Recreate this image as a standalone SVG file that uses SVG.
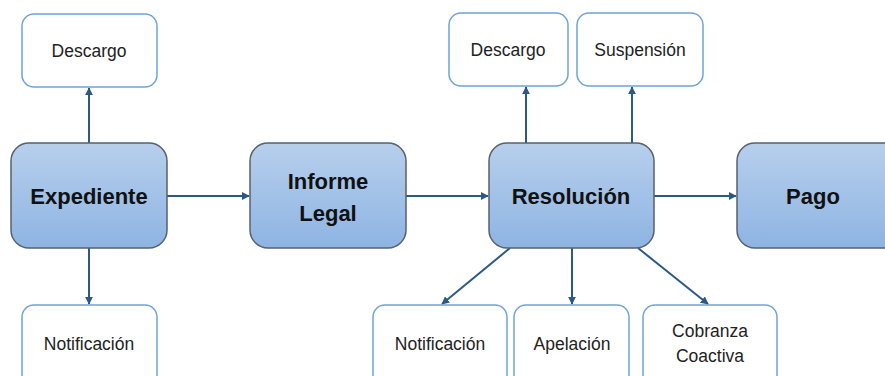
<svg xmlns="http://www.w3.org/2000/svg" width="885" height="376" viewBox="0 0 885 376">
<defs>
<linearGradient id="g" x1="0" y1="0" x2="0" y2="1">
<stop offset="0" stop-color="#B7CFEC"/>
<stop offset="1" stop-color="#8EB4E3"/>
</linearGradient>
<marker id="ah" viewBox="0 0 10 10" refX="9" refY="5" markerWidth="8" markerHeight="8" markerUnits="userSpaceOnUse" orient="auto">
<path d="M0,0 L10,5 L0,10 z" fill="#2C5A85"/>
</marker>
</defs>
<style>
.main rect{fill:url(#g);stroke:#56626F;stroke-width:1.5}
.sub rect{fill:#fff;stroke:#6FA3DA;stroke-width:1.5}
.mt{font-family:"Liberation Sans",Arial,sans-serif;font-weight:bold;font-size:22px;fill:#111;text-anchor:middle}
.st{font-family:"Liberation Sans",Arial,sans-serif;font-size:17.5px;fill:#222;text-anchor:middle}
#connectors line{stroke:#2C5A85;stroke-width:2;marker-end:url(#ah)}
</style>
<rect width="885" height="376" fill="#fff"/>
<g id="connectors">
<line x1="89" y1="143" x2="89" y2="88"/>
<line x1="89" y1="248" x2="89" y2="304"/>
<line x1="167" y1="196" x2="249" y2="196"/>
<line x1="406" y1="196" x2="488" y2="196"/>
<line x1="654" y1="196" x2="736" y2="196"/>
<line x1="526" y1="143" x2="526" y2="87"/>
<line x1="632" y1="143" x2="632" y2="87"/>
<line x1="510" y1="248" x2="442" y2="304"/>
<line x1="572" y1="248" x2="572" y2="304"/>
<line x1="638" y1="248" x2="708" y2="304"/>
</g>
<g id="expediente" class="main"><rect x="11" y="143" width="156" height="105" rx="18"/><text class="mt" x="89" y="204">Expediente</text></g>
<g id="informe" class="main"><rect x="250" y="143" width="156" height="105" rx="18"/><text class="mt" x="328" y="189">Informe</text><text class="mt" x="328" y="221">Legal</text></g>
<g id="resolucion" class="main"><rect x="489" y="143" width="165" height="105" rx="18"/><text class="mt" x="571" y="204">Resolución</text></g>
<g id="pago" class="main"><rect x="737" y="143" width="165" height="105" rx="18"/><text class="mt" x="813" y="204">Pago</text></g>
<g id="descargo1" class="sub"><rect x="22" y="14" width="135" height="73" rx="12"/><text class="st" x="89" y="57">Descargo</text></g>
<g id="notificacion1" class="sub"><rect x="22" y="305" width="135" height="90" rx="12"/><text class="st" x="89" y="350">Notificación</text></g>
<g id="descargo2" class="sub"><rect x="449" y="13" width="119" height="73" rx="12"/><text class="st" x="508" y="56">Descargo</text></g>
<g id="suspension" class="sub"><rect x="577" y="13" width="126" height="73" rx="12"/><text class="st" x="640" y="56">Suspensión</text></g>
<g id="notificacion2" class="sub"><rect x="373" y="305" width="134" height="90" rx="12"/><text class="st" x="440" y="350">Notificación</text></g>
<g id="apelacion" class="sub"><rect x="514" y="305" width="115" height="90" rx="12"/><text class="st" x="572" y="350">Apelación</text></g>
<g id="cobranza" class="sub"><rect x="643" y="305" width="134" height="90" rx="12"/><text class="st" x="710" y="337">Cobranza</text><text class="st" x="710" y="362">Coactiva</text></g>
</svg>
